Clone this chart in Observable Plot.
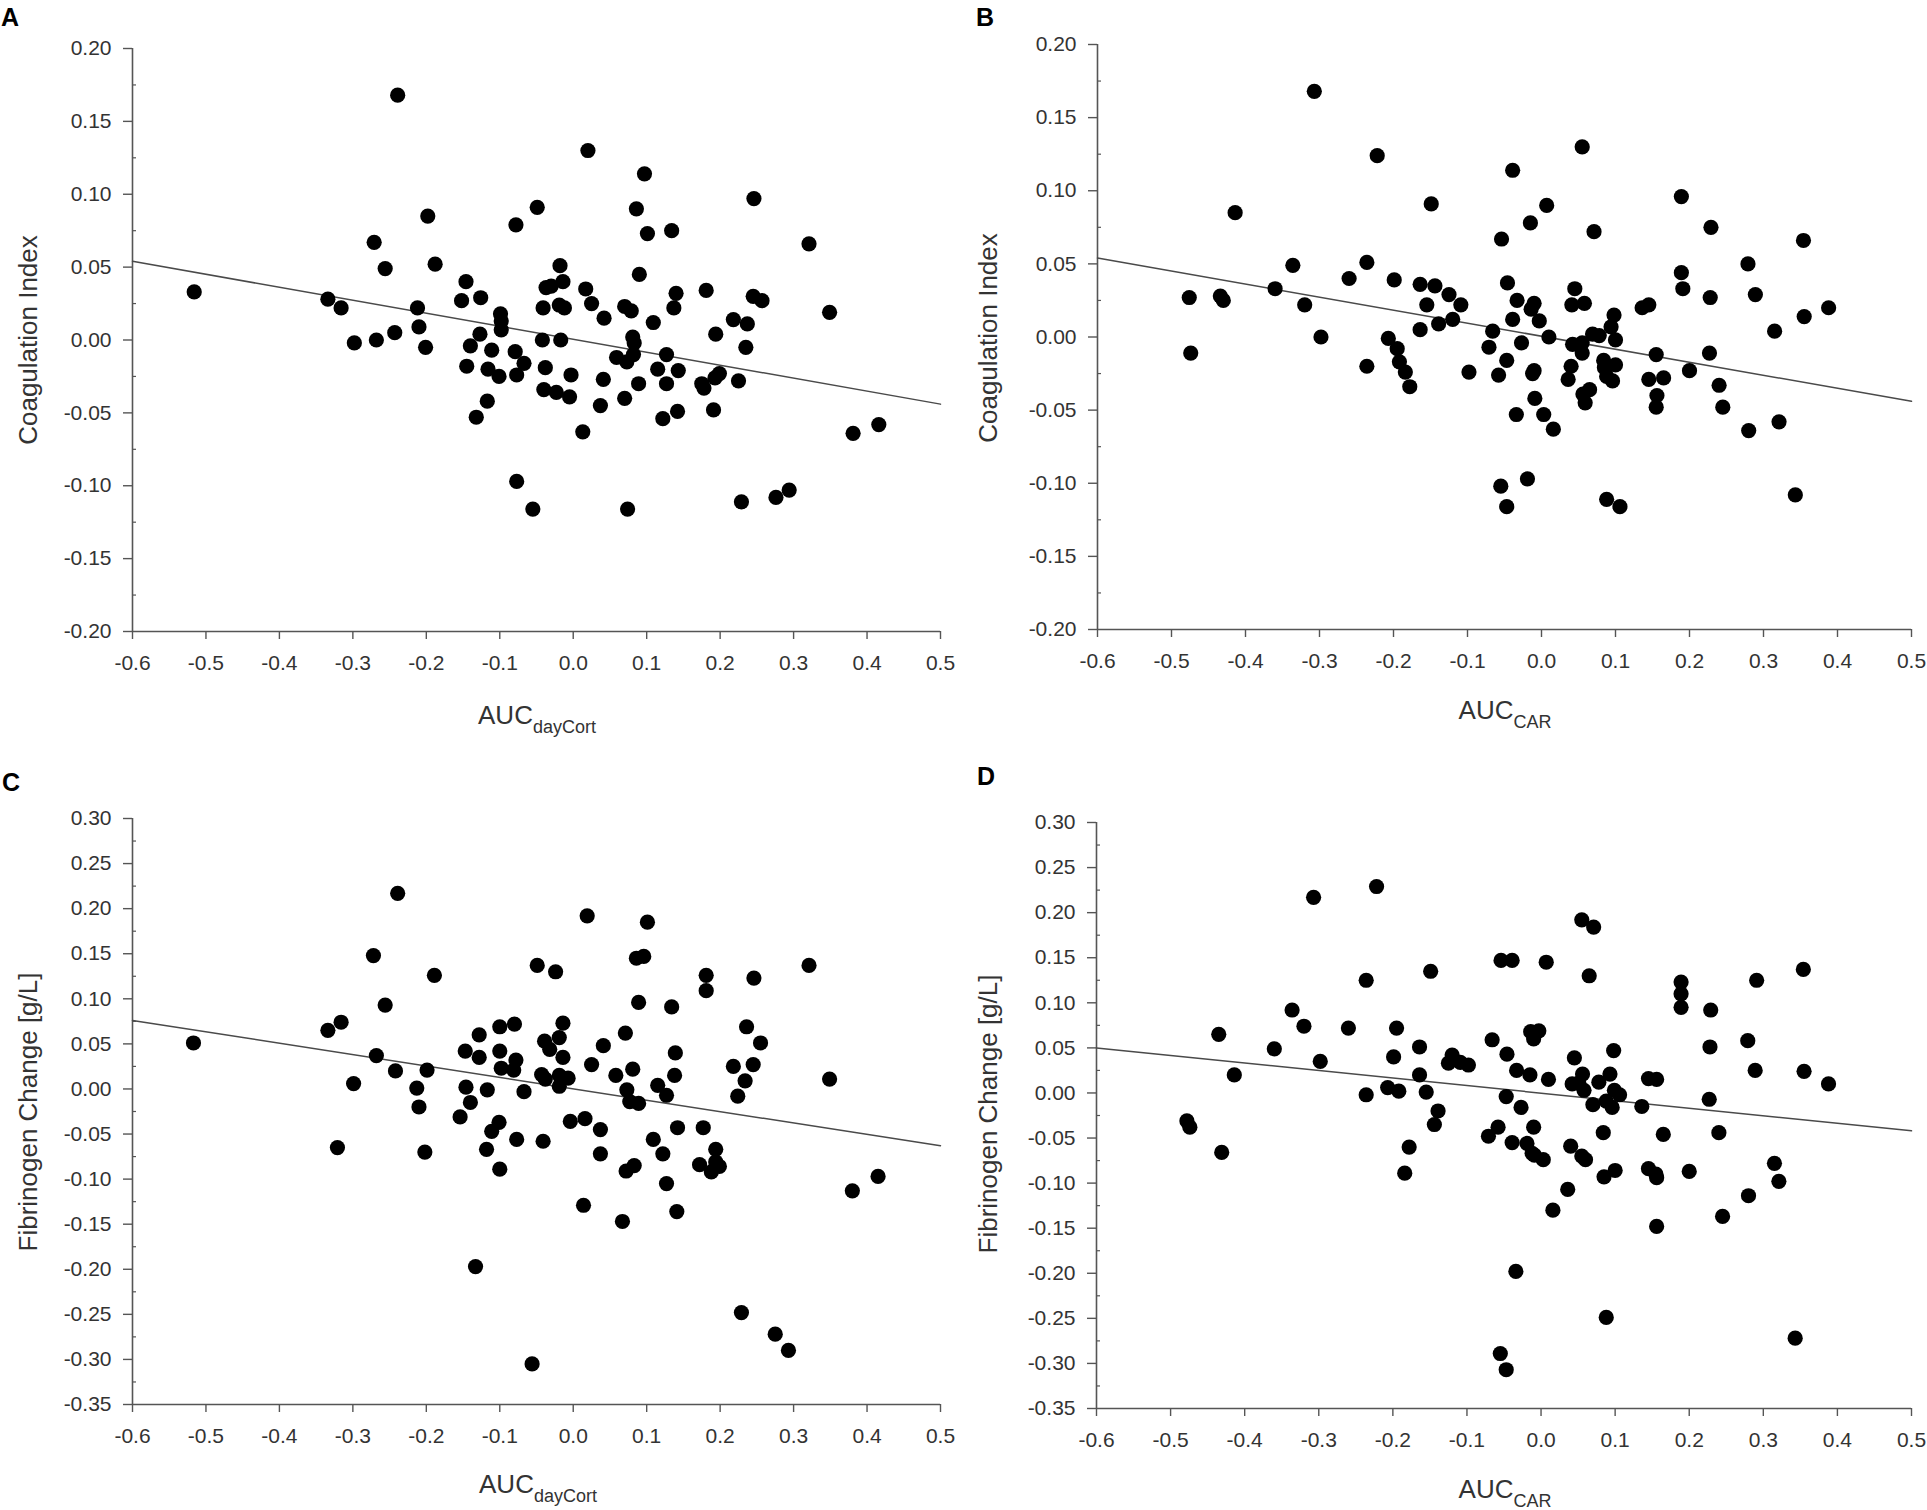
<!DOCTYPE html>
<html>
<head>
<meta charset="utf-8">
<script src="https://cdn.jsdelivr.net/npm/d3@7"></script>
<script src="https://cdn.jsdelivr.net/npm/@observablehq/plot@0.6"></script>
<style>
  html, body { margin: 0; padding: 0; background: #fff; }
  #page { position: relative; width: 1927px; height: 1510px; background: #fff; overflow: hidden;
          font-family: "Liberation Sans", Arial, Helvetica, sans-serif; color: #222; }
  .panel { position: absolute; }
  .letter { position: absolute; font-size: 25px; line-height: 25px; font-weight: bold; color: #000; }
  .ytitle { position: absolute; font-size: 26px; line-height: 26px; color: #333; white-space: nowrap;
            transform: translate(-50%, -50%) rotate(-90deg); }
  .xtitle { position: absolute; font-size: 26px; line-height: 26px; color: #333; white-space: nowrap;
            transform: translateX(-50%); }
  .xtitle sub { font-size: 18px; vertical-align: -9px; line-height: 0; }
</style>
</head>
<body>
<div id="page"></div>
<script>
// ---------- shared ticks ----------
const xTicks = [-0.6, -0.5, -0.4, -0.3, -0.2, -0.1, 0.0, 0.1, 0.2, 0.3, 0.4, 0.5];
const yTicksCoag = [0.20, 0.15, 0.10, 0.05, 0.00, -0.05, -0.10, -0.15, -0.20];
const yMinorCoag = [0.175, 0.125, 0.075, 0.025, -0.025, -0.075, -0.125, -0.175];
const yTicksFib = [0.30, 0.25, 0.20, 0.15, 0.10, 0.05, 0.00, -0.05, -0.10, -0.15, -0.20, -0.25, -0.30, -0.35];
const yMinorFib = [0.275, 0.225, 0.175, 0.125, 0.075, 0.025, -0.025, -0.075, -0.125, -0.175, -0.225, -0.275, -0.325];

// ---------- Panel A: AUC dayCort vs Coagulation Index ----------
const xA = [-0.516,-0.239,-0.271,-0.256,-0.334,-0.316,-0.298,-0.268,-0.243,-0.198,
  -0.188,-0.212,-0.210,-0.201,-0.146,-0.152,-0.126,-0.127,-0.140,-0.145,
  -0.132,-0.117,-0.116,-0.111,-0.101,-0.099,-0.098,-0.098,-0.079,-0.077,
  -0.067,-0.078,-0.049,-0.077,-0.055,-0.037,-0.030,-0.041,-0.042,-0.038,
  -0.040,-0.023,-0.018,-0.014,-0.019,-0.012,-0.017,-0.003,-0.005,0.013,
  0.017,0.020,0.025,0.042,0.041,0.037,0.059,0.070,0.079,0.081,
  0.083,0.082,0.073,0.070,0.074,0.086,0.090,0.097,0.101,0.089,
  0.109,0.115,0.122,0.127,0.127,0.134,0.140,0.137,0.143,0.142,
  0.175,0.178,0.181,0.191,0.194,0.193,0.199,0.218,0.237,0.225,
  0.235,0.229,0.246,0.245,0.257,0.276,0.294,0.321,0.349,0.381,0.416];
const yA = [0.033,0.168,0.067,0.049,0.028,0.022,-0.002,0.000,0.005,0.085,
  0.052,0.022,0.009,-0.005,0.040,0.027,0.029,0.004,-0.004,-0.018,
  -0.053,-0.042,-0.020,-0.007,-0.025,0.018,0.013,0.007,-0.008,-0.024,
  -0.016,0.079,0.091,-0.097,-0.116,0.036,0.037,0.022,0.000,-0.019,
  -0.034,-0.036,0.051,0.040,0.024,0.022,0.000,-0.024,-0.039,-0.063,
  0.035,0.130,0.025,0.015,-0.027,-0.045,-0.012,0.023,0.020,0.002,
  -0.002,-0.010,-0.015,-0.040,-0.116,0.090,0.045,0.114,0.073,-0.030,
  0.012,-0.020,-0.054,-0.030,-0.010,0.075,0.032,0.022,-0.021,-0.049,
  -0.030,-0.033,0.034,-0.048,0.004,-0.026,-0.023,0.014,0.011,-0.028,
  -0.005,-0.111,0.097,0.030,0.027,-0.108,-0.103,0.066,0.019,-0.064,-0.058];
const fitA = [{x: -0.6, y: 0.054}, {x: 0.5, y: -0.044}];

// ---------- Panel B: AUC CAR vs Coagulation Index ----------
const xB = [-0.476,-0.474,-0.434,-0.430,-0.414,-0.360,-0.336,-0.320,-0.307,-0.298,
  -0.260,-0.236,-0.236,-0.222,-0.199,-0.207,-0.195,-0.192,-0.184,-0.178,
  -0.164,-0.164,-0.155,-0.149,-0.144,-0.139,-0.125,-0.120,-0.109,-0.098,
  -0.066,-0.071,-0.058,-0.055,-0.047,-0.054,-0.046,-0.047,-0.039,-0.039,
  -0.033,-0.027,-0.034,-0.019,-0.015,-0.014,-0.010,-0.003,-0.012,-0.010,
  -0.009,0.007,0.010,0.003,0.016,0.036,0.040,0.042,0.041,0.045,
  0.055,0.058,0.055,0.055,0.056,0.059,0.065,0.071,0.069,0.078,
  0.084,0.085,0.088,0.088,0.094,0.098,0.100,0.100,0.096,0.106,
  0.136,0.145,0.145,0.155,0.156,0.155,0.165,0.189,0.189,0.191,
  0.200,0.229,0.228,0.227,0.240,0.245,0.279,0.289,0.280,0.315,
  0.321,0.343,0.354,0.355,0.388];
const yB = [0.027,-0.011,0.028,0.025,0.085,0.033,0.049,0.022,0.168,0.000,
  0.040,0.051,-0.020,0.124,0.039,-0.001,-0.008,-0.017,-0.024,-0.034,
  0.036,0.005,0.022,0.091,0.035,0.009,0.029,0.012,0.022,-0.024,
  0.004,-0.007,-0.026,-0.102,-0.116,0.067,0.037,-0.016,0.114,0.012,
  0.025,-0.004,-0.053,-0.097,0.078,0.019,0.023,0.011,-0.025,-0.023,
  -0.042,0.090,0.000,-0.053,-0.063,-0.029,-0.020,-0.005,0.022,0.033,
  0.130,0.023,-0.004,-0.011,-0.039,-0.045,-0.036,0.072,0.002,0.001,
  -0.016,-0.021,-0.027,-0.111,0.007,0.015,-0.002,-0.019,-0.030,-0.116,
  0.020,0.022,-0.029,-0.012,-0.040,-0.048,-0.028,0.096,0.044,0.033,
  -0.023,0.075,0.027,-0.011,-0.033,-0.048,0.050,0.029,-0.064,0.004,
  -0.058,-0.108,0.066,0.014,0.020];
const fitB = [{x: -0.6, y: 0.054}, {x: 0.5, y: -0.044}];

// ---------- Panel C: AUC dayCort vs Fibrinogen Change ----------
const xC = [-0.517,-0.334,-0.316,-0.321,-0.299,-0.272,-0.268,-0.256,-0.239,-0.242,
  -0.213,-0.210,-0.199,-0.202,-0.189,-0.154,-0.147,-0.146,-0.140,-0.133,
  -0.128,-0.128,-0.117,-0.118,-0.111,-0.101,-0.100,-0.100,-0.098,-0.100,
  -0.080,-0.078,-0.081,-0.077,-0.067,-0.049,-0.056,-0.043,-0.039,-0.041,
  -0.038,-0.032,-0.024,-0.019,-0.014,-0.014,-0.019,-0.019,-0.007,-0.004,
  0.014,0.016,0.019,0.025,0.037,0.041,0.037,0.058,0.071,0.067,
  0.073,0.077,0.072,0.083,0.081,0.086,0.096,0.089,0.089,0.101,
  0.109,0.115,0.122,0.127,0.127,0.134,0.138,0.139,0.142,0.141,
  0.172,0.177,0.181,0.181,0.188,0.194,0.194,0.199,0.218,0.224,
  0.229,0.234,0.236,0.246,0.245,0.255,0.275,0.293,0.321,0.349,
  0.380,0.415];
const yC = [0.051,0.065,0.074,-0.065,0.006,0.148,0.037,0.093,0.217,0.020,
  0.001,-0.020,0.021,-0.070,0.126,-0.031,0.042,0.002,-0.015,-0.197,
  0.060,0.035,-0.001,-0.067,-0.047,-0.037,0.069,0.042,0.023,-0.089,
  0.072,0.032,0.021,-0.056,-0.003,0.137,-0.305,0.016,0.053,-0.058,
  0.011,0.044,0.130,0.057,0.073,0.035,0.015,0.003,0.012,-0.036,
  -0.129,-0.033,0.192,0.027,-0.045,0.048,-0.072,0.015,0.062,-0.147,
  -0.001,-0.014,-0.091,-0.085,0.022,0.145,0.147,0.096,-0.016,0.185,
  -0.056,0.004,-0.072,-0.007,-0.105,0.091,0.015,0.040,-0.043,-0.136,
  -0.084,-0.043,0.126,0.109,-0.092,-0.067,-0.081,-0.086,0.025,-0.008,
  -0.248,0.009,0.069,0.123,0.027,0.051,-0.272,-0.290,0.137,0.011,
  -0.113,-0.097];
const fitC = [{x: -0.6, y: 0.076}, {x: 0.5, y: -0.063}];

// ---------- Panel D: AUC CAR vs Fibrinogen Change ----------
const xD = [-0.478,-0.474,-0.435,-0.431,-0.414,-0.360,-0.336,-0.320,-0.307,-0.298,
  -0.260,-0.236,-0.236,-0.222,-0.199,-0.195,-0.207,-0.192,-0.184,-0.178,
  -0.164,-0.164,-0.155,-0.149,-0.139,-0.144,-0.125,-0.120,-0.109,-0.098,
  -0.066,-0.071,-0.058,-0.055,-0.047,-0.054,-0.046,-0.047,-0.039,-0.039,
  -0.033,-0.027,-0.034,-0.019,-0.015,-0.014,-0.010,-0.003,-0.012,-0.010,
  -0.009,0.007,0.010,0.003,0.016,0.036,0.040,0.042,0.045,0.055,
  0.056,0.051,0.058,0.055,0.060,0.065,0.071,0.070,0.078,0.084,
  0.085,0.088,0.088,0.093,0.098,0.099,0.096,0.100,0.106,0.136,
  0.145,0.156,0.145,0.155,0.156,0.156,0.165,0.189,0.189,0.189,
  0.200,0.229,0.228,0.227,0.240,0.245,0.279,0.289,0.280,0.291,
  0.315,0.321,0.343,0.354,0.355,0.388];
const yD = [-0.031,-0.038,0.065,-0.066,0.020,0.049,0.092,0.074,0.217,0.035,
  0.072,0.125,-0.002,0.229,0.040,0.072,0.006,0.002,-0.089,-0.060,
  0.051,0.020,0.001,0.135,-0.020,-0.035,0.033,0.042,0.034,0.031,
  0.059,-0.048,-0.038,-0.289,-0.307,0.147,0.043,-0.004,0.147,-0.055,
  0.025,-0.016,-0.198,-0.056,0.020,0.068,0.060,0.069,-0.067,-0.038,
  -0.069,0.145,0.015,-0.074,-0.130,-0.107,-0.059,0.010,0.039,0.192,
  0.021,0.011,0.003,-0.070,-0.074,0.130,0.184,-0.013,0.012,-0.044,
  -0.093,-0.249,-0.009,0.021,0.047,0.003,-0.016,-0.086,-0.002,-0.015,
  0.016,0.015,-0.084,-0.090,-0.094,-0.148,-0.046,0.123,0.110,0.095,
  -0.087,0.092,0.051,-0.007,-0.044,-0.137,0.058,0.025,-0.114,0.125,
  -0.078,-0.098,-0.272,0.137,0.024,0.010];
const fitD = [{x: -0.6, y: 0.050}, {x: 0.5, y: -0.042}];

// ---------- rendering ----------
const page = document.getElementById("page");
const FONT = '"Liberation Sans", Arial, Helvetica, sans-serif';
const AXIS = "#555";
const TEXT = "#333";

function makePanel(cfg) {
  const data = cfg.xs.map((x, i) => ({x, y: cfg.ys[i]}));
  const yT = cfg.yTicks;
  const svg = Plot.plot({
    width: cfg.width,
    height: cfg.height,
    marginLeft: cfg.ml, marginRight: cfg.mr, marginTop: cfg.mt, marginBottom: cfg.mb,
    x: {domain: [xTicks[0], xTicks[xTicks.length - 1]]},
    y: {domain: [yT[yT.length - 1], yT[0]]},
    style: {fontFamily: FONT, fontSize: "21px", color: TEXT, background: "transparent", overflow: "visible"},
    marks: [
      Plot.ruleX([xTicks[0]], {stroke: AXIS, strokeWidth: 1.6}),
      Plot.ruleY([yT[yT.length - 1]], {stroke: AXIS, strokeWidth: 1.6}),
      Plot.axisX({ticks: xTicks, tickSize: 8, tickPadding: 16, tickFormat: d => d.toFixed(1),
                  label: null, stroke: AXIS, strokeWidth: 1.4, fill: TEXT, fontSize: 21}),
      Plot.axisY({ticks: yT, tickSize: 9, tickPadding: 12, tickFormat: d => d.toFixed(2),
                  label: null, stroke: AXIS, strokeWidth: 1.4, fill: TEXT, fontSize: 21}),
      Plot.axisY({ticks: cfg.yMinor, tickSize: -4, tickFormat: () => "", label: null,
                  stroke: AXIS, strokeWidth: 1.2}),
      Plot.line(cfg.fit, {x: "x", y: "y", stroke: "#4a4a4a", strokeWidth: 1.5}),
      Plot.dot(data, {x: "x", y: "y", r: 7.6, fill: "#000", stroke: "none"})
    ]
  });
  const div = document.createElement("div");
  div.className = "panel";
  div.style.left = cfg.left + "px";
  div.style.top = cfg.top + "px";
  div.appendChild(svg);
  page.appendChild(div);
}

function addText(cls, html, left, top) {
  const d = document.createElement("div");
  d.className = cls;
  d.innerHTML = html;
  d.style.left = left + "px";
  d.style.top = top + "px";
  page.appendChild(d);
}

makePanel({xs: xA, ys: yA, fit: fitA, yTicks: yTicksCoag, yMinor: yMinorCoag,
  left: 0, top: 0, width: 963, height: 755, ml: 132, mr: 23, mt: 48, mb: 124});
makePanel({xs: xB, ys: yB, fit: fitB, yTicks: yTicksCoag, yMinor: yMinorCoag,
  left: 963, top: 0, width: 964, height: 755, ml: 134, mr: 16, mt: 44, mb: 126});
makePanel({xs: xC, ys: yC, fit: fitC, yTicks: yTicksFib, yMinor: yMinorFib,
  left: 0, top: 755, width: 963, height: 755, ml: 132, mr: 23, mt: 63, mb: 106});
makePanel({xs: xD, ys: yD, fit: fitD, yTicks: yTicksFib, yMinor: yMinorFib,
  left: 963, top: 755, width: 964, height: 755, ml: 133, mr: 16, mt: 67, mb: 102});

// panel letters
addText("letter", "A", 1, 5);
addText("letter", "B", 976, 5);
addText("letter", "C", 2, 770);
addText("letter", "D", 977, 764);

// y-axis titles
addText("ytitle", "Coagulation Index", 28, 340);
addText("ytitle", "Coagulation Index", 988, 338);
addText("ytitle", "Fibrinogen Change [g/L]", 28, 1112);
addText("ytitle", "Fibrinogen Change [g/L]", 988, 1114);

// x-axis titles
addText("xtitle", "AUC<sub>dayCort</sub>", 537, 702);
addText("xtitle", "AUC<sub>CAR</sub>", 1505, 697);
addText("xtitle", "AUC<sub>dayCort</sub>", 538, 1471);
addText("xtitle", "AUC<sub>CAR</sub>", 1505, 1476);
</script>
</body>
</html>
